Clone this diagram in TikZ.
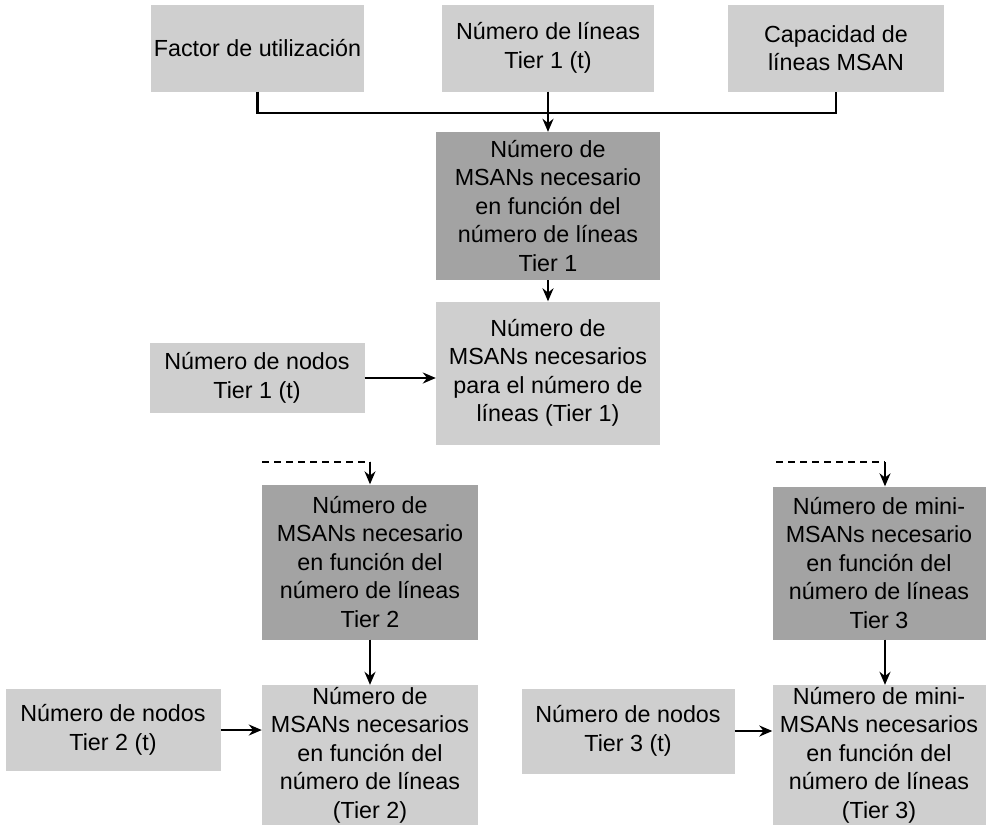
\documentclass[tikz,border=0pt]{standalone}
\usepackage{fontspec}
\setmainfont{Liberation Sans}
\usetikzlibrary{arrows.meta}
\definecolor{boxlight}{gray}{0.81}
\definecolor{boxdark}{gray}{0.64}
\newcommand{\boxfont}{\fontsize{23.3}{28.5}\selectfont}
\tikzset{
  box/.style={fill=boxlight, inner sep=0pt, align=center, font=\boxfont},
  darkbox/.style={box, fill=boxdark},
  link/.style={line width=2.1pt},
  arr/.style={link, -{Stealth[length=13pt,width=11pt]}},
  dashlink/.style={line width=1.8pt, dash pattern=on 7pt off 5pt}
}
\begin{document}
\begin{tikzpicture}[x=1pt,y=-1pt]
\useasboundingbox (0,0) rectangle (989,831);

% inputs on the top row
\node[box, minimum width=213, minimum height=87] (fu) at (257.5,48) {Factor de utilización};
\node[box, minimum width=212, minimum height=87] (nl) at (548,48) {Número de líneas\\Tier 1 (t)};
\node[box, minimum width=216, minimum height=87] (cap) at (836,48) {Capacidad de\\líneas MSAN};

% Tier 1 column
\node[darkbox, minimum width=224, minimum height=148] (m1) at (548,206)
  {Número de\\MSANs necesario\\en función del\\número de líneas\\Tier 1};
\node[box, minimum width=224, minimum height=143] (r1) at (548,373)
  {Número de\\MSANs necesarios\\para el número de\\líneas (Tier 1)};
\node[box, minimum width=215, minimum height=70] (n1) at (257,378)
  {Número de nodos\\Tier 1 (t)};

% Tier 2 column
\node[darkbox, minimum width=216, minimum height=155] (m2) at (370,562)
  {Número de\\MSANs necesario\\en función del\\número de líneas\\Tier 2};
\node[box, minimum width=216, minimum height=140] (r2) at (370,755)
  {Número de\\MSANs necesarios\\en función del\\número de líneas\\(Tier 2)};
\node[box, minimum width=215, minimum height=82] (n2) at (113,730)
  {Número de nodos\\Tier 2 (t)};

% Tier 3 column
\node[darkbox, minimum width=213, minimum height=153] (m3) at (879,563)
  {Número de mini-\\MSANs necesario\\en función del\\número de líneas\\Tier 3};
\node[box, minimum width=213, minimum height=140] (r3) at (879,755)
  {Número de mini-\\MSANs necesarios\\en función del\\número de líneas\\(Tier 3)};
\node[box, minimum width=213, minimum height=85] (n3) at (628,731)
  {Número de nodos\\Tier 3 (t)};

% joining bar under the top row
\coordinate (hub) at (548,113);
\draw[link] (fu.south) -- (fu.south |- hub) -- (cap.south |- hub) -- (cap.south);
\draw[arr] (nl.south) -- (m1.north);
\draw[arr] (m1.south) -- (r1.north);
\draw[arr] (n1.east) -- (n1.east -| r1.west);

% dashed feeds into the Tier 2 and Tier 3 columns
\coordinate (d2) at (262,462);
\coordinate (d2e) at (370,462);
\draw[dashlink] (d2) -- (d2e);
\draw[arr, line width=1.6pt] (d2e) -- (d2e |- m2.north);
\draw[arr] (m2.south) -- (r2.north);
\draw[arr] (n2.east) -- (n2.east -| r2.west);

\coordinate (d3) at (776,462);
\coordinate (d3e) at (885,462);
\draw[dashlink] (d3) -- (d3e);
\draw[arr, line width=1.6pt] (d3e) -- (d3e |- m3.north);
\coordinate (a3) at (885,640);
\draw[arr] (m3.south -| a3) -- (r3.north -| a3);
\draw[arr] (n3.east) -- (n3.east -| r3.west);
\end{tikzpicture}
\end{document}
